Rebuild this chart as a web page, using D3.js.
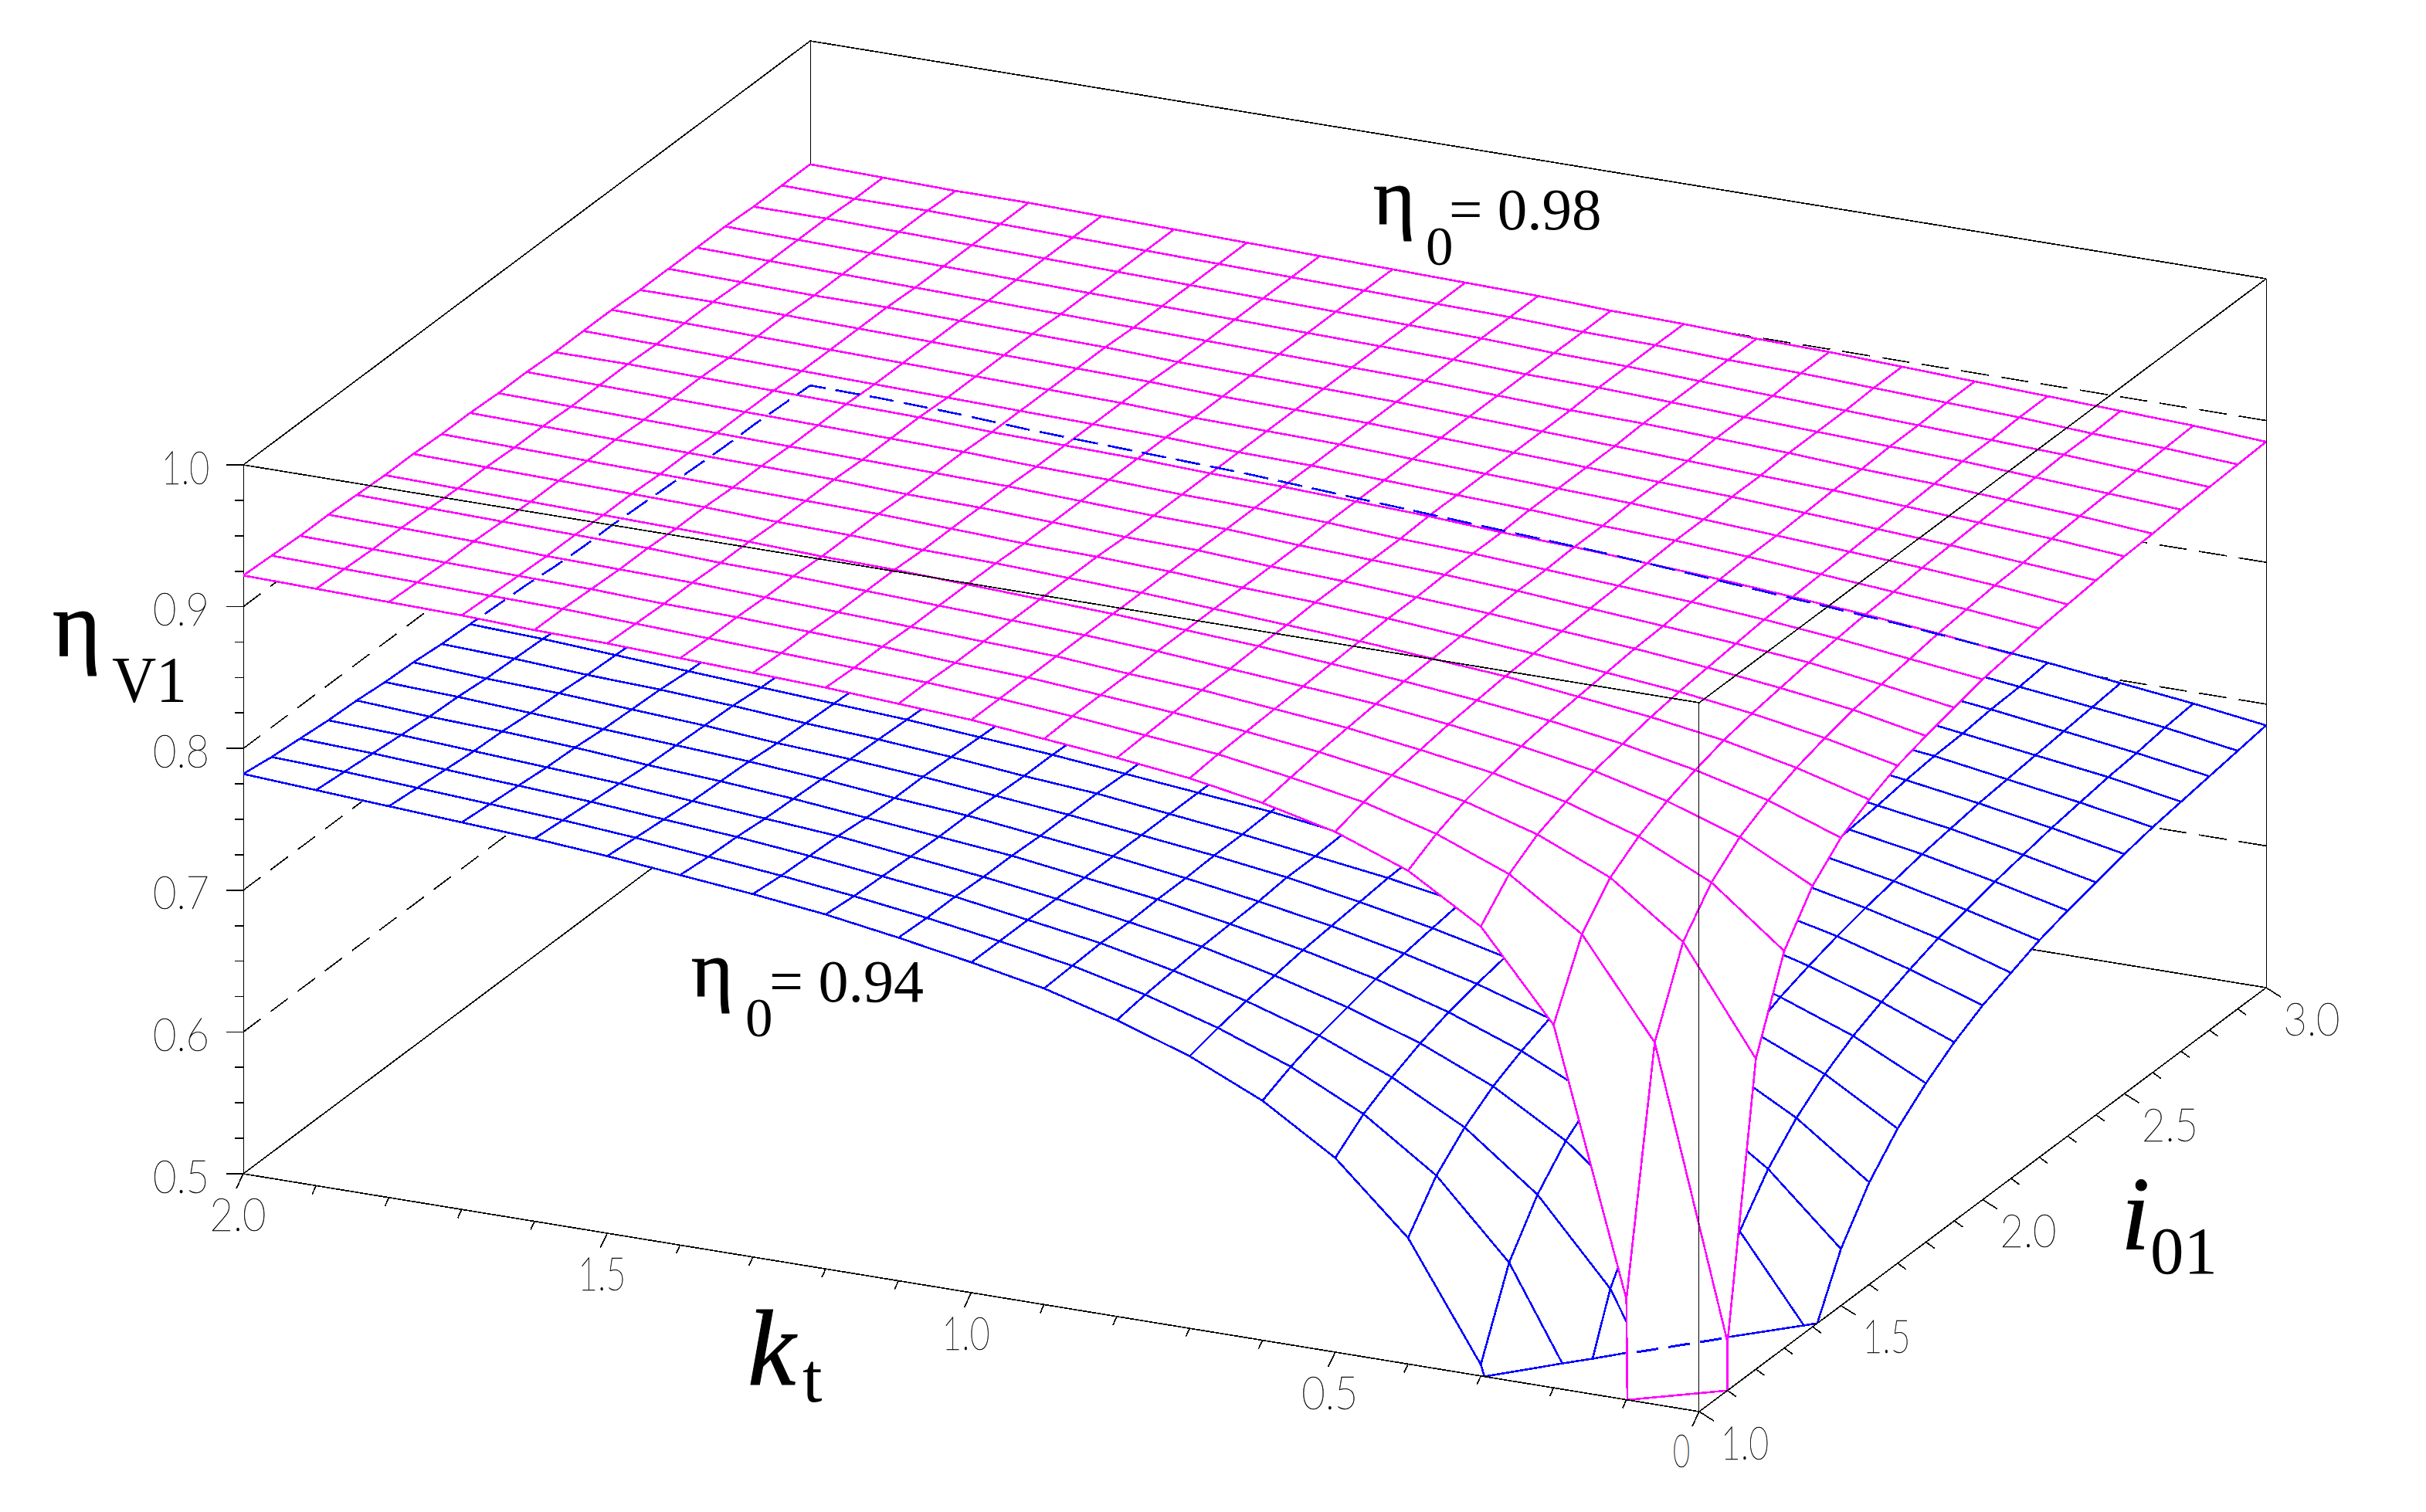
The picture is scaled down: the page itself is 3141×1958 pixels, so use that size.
<!DOCTYPE html>
<html><head><meta charset="utf-8"><script src="https://cdn.jsdelivr.net/npm/d3@7"></script>
<style>html,body{margin:0;background:#fff}svg{display:block}</style></head><body>
<svg id="c" width="3141" height="1958" xmlns="http://www.w3.org/2000/svg"></svg>
<script>
// Axis values
const ktValues = d3.range(21).map(n => n / 10);        // kt = 0 … 2.0
const i01Values = d3.range(21).map(n => 1 + n / 10);   // i01 = 1.0 … 3.0
const zTicks = d3.range(21).map(n => 0.5 + n * 0.025); // eta_V1 ticks
const zLabels = ["0.5", "0.6", "0.7", "0.8", "0.9", "1.0"];
const ktLabels = ["2.0", "1.5", "1.0", "0.5", "0"];
const iLabels = ["1.0", "1.5", "2.0", "2.5", "3.0"];
const wallLevels = [0.6, 0.7, 0.8, 0.9];
// Surface heights, rows i01 = 1.0 … 3.0, columns kt = 0 … 2.0. Heights under the floor (0.5) are cut off.
const surfaceEta098 = [
[-5,.571,.756,.817,.848,.867,.879,.888,.894,.899,.904,.907,.910,.912,.914,.916,.917,.919,.920,.921,.922],
[.534,.737,.805,.839,.859,.873,.882,.890,.895,.900,.904,.907,.909,.911,.913,.915,.917,.918,.919,.920,.921],
[.719,.793,.830,.852,.867,.877,.885,.891,.896,.900,.904,.906,.909,.911,.913,.914,.916,.917,.918,.919,.920],
[.780,.820,.844,.860,.872,.880,.887,.892,.897,.900,.904,.906,.908,.910,.912,.914,.915,.916,.918,.919,.920],
[.811,.837,.854,.867,.876,.883,.889,.893,.897,.901,.904,.906,.908,.910,.912,.913,.915,.916,.917,.918,.919],
[.830,.848,.861,.871,.879,.885,.890,.894,.898,.901,.904,.906,.908,.910,.911,.913,.914,.915,.916,.917,.918],
[.842,.856,.867,.875,.881,.887,.891,.895,.898,.901,.904,.906,.908,.909,.911,.912,.914,.915,.916,.917,.918],
[.851,.862,.871,.878,.883,.888,.892,.896,.899,.901,.904,.906,.907,.909,.911,.912,.913,.914,.915,.916,.917],
[.857,.867,.874,.880,.885,.889,.893,.896,.899,.901,.904,.905,.907,.909,.910,.912,.913,.914,.915,.916,.917],
[.862,.870,.877,.882,.886,.890,.894,.897,.899,.901,.904,.905,.907,.909,.910,.911,.912,.913,.914,.915,.916],
[.867,.873,.879,.884,.888,.891,.894,.897,.899,.902,.904,.905,.907,.908,.910,.911,.912,.913,.914,.915,.916],
[.870,.876,.881,.885,.889,.892,.895,.897,.900,.902,.904,.905,.907,.908,.909,.911,.912,.913,.914,.915,.915],
[.873,.878,.882,.886,.890,.893,.895,.898,.900,.902,.904,.905,.907,.908,.909,.910,.911,.912,.913,.914,.915],
[.875,.880,.884,.887,.890,.893,.896,.898,.900,.902,.904,.905,.906,.908,.909,.910,.911,.912,.913,.914,.915],
[.877,.881,.885,.888,.891,.894,.896,.898,.900,.902,.904,.905,.906,.908,.909,.910,.911,.912,.913,.914,.914],
[.879,.883,.886,.889,.892,.894,.896,.898,.900,.902,.904,.905,.906,.907,.909,.910,.911,.912,.912,.913,.914],
[.880,.884,.887,.890,.892,.895,.897,.899,.900,.902,.904,.905,.906,.907,.908,.909,.910,.911,.912,.913,.914],
[.882,.885,.888,.891,.893,.895,.897,.899,.901,.902,.904,.905,.906,.907,.908,.909,.910,.911,.912,.913,.914],
[.883,.886,.889,.891,.893,.895,.897,.899,.901,.902,.904,.905,.906,.907,.908,.909,.910,.911,.912,.913,.913],
[.884,.887,.889,.892,.894,.896,.898,.899,.901,.902,.904,.905,.906,.907,.908,.909,.910,.911,.912,.912,.913],
[.885,.888,.890,.892,.894,.896,.898,.899,.901,.902,.904,.905,.906,.907,.908,.909,.910,.911,.911,.912,.913]];
const surfaceEta094 = [
[-5,-.135,.348,.508,.589,.637,.669,.692,.709,.723,.733,.742,.750,.756,.761,.766,.770,.773,.776,.779,.782],
[-.232,.299,.476,.565,.618,.653,.678,.697,.712,.724,.733,.741,.748,.754,.759,.764,.768,.771,.774,.777,.779],
[.250,.444,.540,.598,.637,.664,.685,.701,.714,.725,.733,.741,.747,.753,.758,.762,.766,.769,.772,.775,.777],
[.411,.516,.579,.621,.651,.673,.690,.704,.716,.725,.733,.740,.746,.752,.756,.760,.764,.767,.770,.773,.775],
[.492,.559,.604,.637,.661,.680,.695,.707,.717,.726,.733,.740,.745,.750,.755,.759,.762,.766,.769,.771,.774],
[.540,.588,.623,.649,.669,.685,.698,.709,.718,.726,.733,.739,.745,.749,.754,.758,.761,.764,.767,.770,.772],
[.572,.609,.637,.658,.675,.689,.701,.711,.720,.727,.733,.739,.744,.749,.753,.756,.760,.763,.766,.768,.771],
[.595,.625,.647,.666,.681,.693,.704,.713,.720,.727,.733,.739,.743,.748,.752,.755,.759,.762,.764,.767,.769],
[.612,.637,.656,.672,.685,.696,.706,.714,.721,.728,.733,.738,.743,.747,.751,.754,.757,.760,.763,.766,.768],
[.626,.646,.663,.677,.689,.699,.707,.715,.722,.728,.733,.738,.742,.746,.750,.753,.756,.759,.762,.764,.767],
[.637,.654,.669,.681,.692,.701,.709,.716,.722,.728,.733,.738,.742,.746,.749,.753,.756,.758,.761,.763,.766],
[.645,.661,.674,.685,.695,.703,.710,.717,.723,.728,.733,.738,.742,.745,.749,.752,.755,.757,.760,.762,.764],
[.653,.666,.678,.688,.697,.705,.712,.718,.724,.729,.733,.737,.741,.745,.748,.751,.754,.757,.759,.761,.763],
[.659,.671,.682,.691,.699,.706,.713,.719,.724,.729,.733,.737,.741,.744,.748,.751,.753,.756,.758,.760,.763],
[.664,.675,.685,.693,.701,.708,.714,.719,.724,.729,.733,.737,.741,.744,.747,.750,.753,.755,.757,.760,.762],
[.669,.679,.688,.696,.703,.709,.715,.720,.725,.729,.733,.737,.740,.744,.747,.749,.752,.754,.757,.759,.761],
[.673,.682,.690,.698,.704,.710,.716,.721,.725,.729,.733,.737,.740,.743,.746,.749,.751,.754,.756,.758,.760],
[.676,.685,.692,.699,.706,.711,.716,.721,.725,.729,.733,.737,.740,.743,.746,.748,.751,.753,.755,.757,.759],
[.679,.687,.694,.701,.707,.712,.717,.722,.726,.730,.733,.737,.740,.743,.745,.748,.750,.753,.755,.757,.759],
[.682,.690,.696,.702,.708,.713,.718,.722,.726,.730,.733,.736,.739,.742,.745,.747,.750,.752,.754,.756,.758],
[.685,.692,.698,.704,.709,.714,.718,.722,.726,.730,.733,.736,.739,.742,.745,.747,.749,.751,.754,.756,.757]];

// Parallel projection of the box built from d3 scales
const zFloor = 0.5;
const origin = [2200, 1828];
const ktX = d3.scaleLinear().domain([0, 2]).range([0, -1885]);
const ktY = d3.scaleLinear().domain([0, 2]).range([0, -308]);
const iX = d3.scaleLinear().domain([1, 3]).range([0, 734]);
const iY = d3.scaleLinear().domain([1, 3]).range([0, -549]);
const zY = d3.scaleLinear().domain([0.5, 1]).range([0, -918]);
const P = (t, i, z) => [origin[0] + ktX(t) + iX(i), origin[1] + ktY(t) + iY(i) + zY(z)];
const path = d3.line();

const svg = d3.select("#c");
const geo = svg.append("g").attr("fill", "none").attr("shape-rendering", "crispEdges");
const BOX = 1.7, THIN = 1;

function stroke(g, pts, color, w, dash, offset) {
  const p = g.append("path").attr("d", path(pts)).attr("stroke", color).attr("stroke-width", w);
  if (dash) p.attr("stroke-dasharray", dash).attr("stroke-dashoffset", offset || 0);
  return p;
}
const vertical = (g, t, i, dx) => stroke(g, [P(t, i, 1), P(t, i, zFloor)], "#000", THIN).attr("transform", `translate(${dx},0)`);

// Back of the box
const back = geo.append("g");
stroke(back, [P(2, 1, 1), P(2, 3, 1), P(0, 3, 1)], "#000", BOX);
stroke(back, [P(2, 1, zFloor), P(2, 3, zFloor), P(0, 3, zFloor)], "#000", BOX);
vertical(back, 2, 3, 0.5);
vertical(back, 2, 1, 0.5);
vertical(back, 0, 3, 0.5);
wallLevels.forEach(z => {
  stroke(back, [P(2, 1, z), P(2, 3, z)], "#000", BOX, "28 16");
  stroke(back, [P(0, 3, z), P(2, 3, z)], "#000", BOX, "36 16");
});

// Wireframe surface, painted back to front, cut off at the floor
function surface(values, color, width) {
  const g = geo.append("g");
  const node = (k, j) => ({ k, j, z: values[j][k] });
  const cut = (a, b) => {
    const t = (zFloor - a.z) / (b.z - a.z);
    return { k: a.k + (b.k - a.k) * t, j: a.j + (b.j - a.j) * t, z: zFloor };
  };
  const at = n => P(n.k / 10, 1 + n.j / 10, n.z);
  for (let j = 19; j >= 0; j--) for (let k = 19; k >= 0; k--) {
    const c = [node(k, j), node(k + 1, j), node(k + 1, j + 1), node(k, j + 1)];
    const poly = [], segs = [], cuts = [];
    c.forEach((a, n) => {
      const b = c[(n + 1) % 4], ain = a.z >= zFloor, bin = b.z >= zFloor;
      if (ain) poly.push(a);
      if (ain !== bin) { const m = cut(a, b); poly.push(m); cuts.push(m); segs.push(ain ? [a, m] : [m, b]); }
      else if (ain) segs.push([a, b]);
    });
    if (!poly.length) continue;
    g.append("path").attr("d", path(poly.map(at)) + "Z").attr("fill", "#fff").attr("stroke", "none");
    segs.forEach(s => stroke(g, s.map(at), color, width));
    if (cuts.length === 2) stroke(g, cuts.map(at), color, width);
  }
}
surface(surfaceEta094, "#0000ff", 2.6);
surface(surfaceEta098, "#ff00ff", 2.6);

// Hidden edges of the lower surface show through as dashes
const hidden = geo.append("g");
stroke(hidden, i01Values.map((i, j) => P(2, i, surfaceEta094[j][20])).reverse(), "#0000ff", 2.6, "32 13", 12);
stroke(hidden, ktValues.map((t, k) => P(t, 3, surfaceEta094[20][k])).reverse(), "#0000ff", 2.6, "32 13", 12);
const floorCut = [[2.95, 0], [0, 4.17]].map(([k, j]) => P(k / 10, 1 + j / 10, zFloor));
const wellA = floorCut[0][0] + 184, wellB = floorCut[0][0] + 315;
const defs = svg.append("defs");
defs.append("clipPath").attr("id", "well").append("rect").attr("x", wellA).attr("y", 1600).attr("width", wellB - wellA).attr("height", 300);
// The floor line is redrawn through the magenta well
stroke(hidden, floorCut, "#0000ff", 3, "28 13.5", 7.7).attr("clip-path", "url(#well)");

// Front of the box, on top
const front = geo.append("g");
stroke(front, [P(2, 1, 1), P(0, 1, 1), P(0, 3, 1)], "#000", BOX);
stroke(front, [P(2, 1, zFloor), P(0, 1, zFloor), P(0, 3, zFloor)], "#000", BOX);
vertical(front, 0, 1, -0.5);

// Ticks
const major = (v, step) => Math.abs(v / step - Math.round(v / step)) < 1e-6;
zTicks.forEach(z => {
  const p = P(2, 1, z), l = major(z, 0.1) ? 22 : 11;
  stroke(front, [[p[0] - l, p[1]], p], "#000", BOX);
});
ktValues.forEach(t => {
  const p = P(t, 1, zFloor), m = major(t, 0.5);
  stroke(front, [p, [p[0] + (m ? -9 : -5), p[1] + (m ? 19 : 11)]], "#000", BOX);
});
i01Values.forEach(i => {
  const p = P(0, i, zFloor), m = major(i, 0.5);
  stroke(front, [p, [p[0] + (m ? 19 : 11), p[1] + (m ? 12 : 8)]], "#000", BOX);
});

// Thin tick labels
const labels = svg.append("g").attr("font-family", "Lato").attr("font-weight", 100).attr("font-size", 60)
  .attr("fill", "#000").attr("stroke", "#000").attr("stroke-width", 0.5).attr("text-anchor", "middle");
function tick(x, y, s) {
  const w = s === "0" ? 22 : s.startsWith("1") ? 62 : 73;
  labels.append("text").attr("x", x).attr("y", y + 21.5).attr("textLength", w)
    .attr("lengthAdjust", "spacingAndGlyphs").text(s);
}
zLabels.forEach(s => { const z = +s, p = P(2, 1, z), w = s.startsWith("1") ? 62 : 73; tick(271 - w / 2, p[1] + 3, s); });
ktLabels.forEach(s => { const p = P(+s, 1, zFloor); s === "0" ? tick(p[0] - 23, p[1] + 50, s) : tick(p[0] - 7, p[1] + 52, s); });
iLabels.forEach(s => { const p = P(0, +s, zFloor); tick(p[0] + 59, p[1] + 40, s); });

// Axis titles and annotations
const serif = svg.append("g").attr("font-family", "Liberation Serif").attr("fill", "#000");
function txt(x, y, size, s, opt) {
  const t = serif.append("text").attr("x", x).attr("y", y).attr("font-size", size).text(s);
  if (opt && opt.italic) t.attr("font-style", "italic");
  if (opt && opt.heavy) t.attr("stroke", "#000").attr("stroke-width", opt.heavy);
  if (opt && opt.len) t.attr("textLength", opt.len).attr("lengthAdjust", "spacingAndGlyphs");
}
txt(68, 849, 120, "η", { heavy: 1 });
txt(145, 909, 85, "V1", { len: 97 });
txt(968, 1793, 140, "k", { italic: true, heavy: 1 });
txt(1039, 1815, 92, "t");
txt(2746, 1618, 135, "i", { italic: true, heavy: 1 });
txt(2784, 1649, 87, "01");
txt(1778, 290, 104, "η", { heavy: 1 });
txt(1846, 343, 71, "0");
txt(1876, 297, 77, "= 0.98");
txt(895, 1290, 104, "η", { heavy: 1 });
txt(965, 1342, 71, "0");
txt(996, 1297, 78, "= 0.94");
</script></body></html>
